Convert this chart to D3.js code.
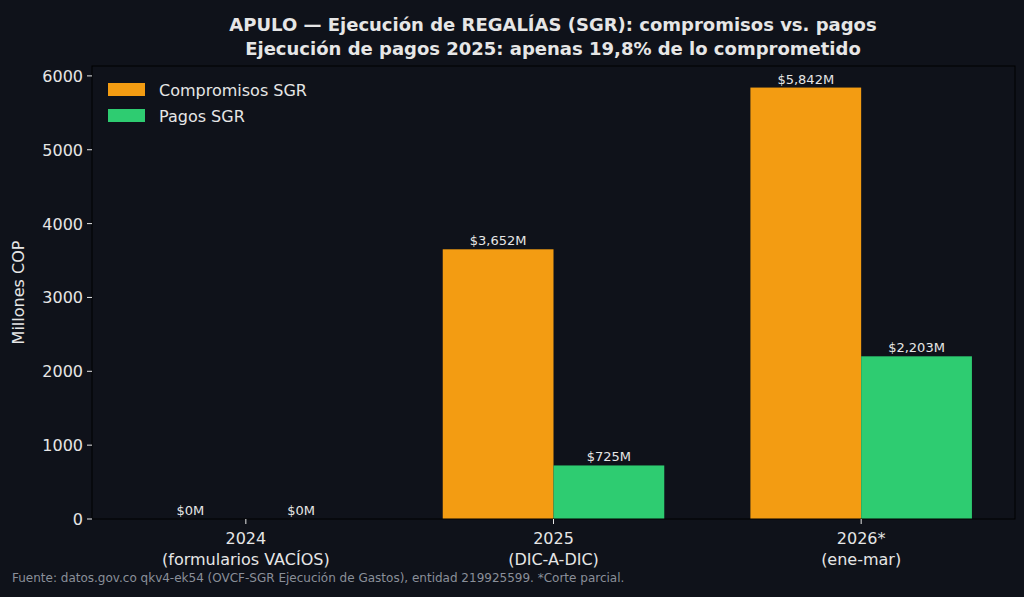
<!DOCTYPE html><html><head><meta charset="utf-8">
<script src="https://cdn.jsdelivr.net/npm/d3@7"></script>
<style>body{margin:0;background:#0f121a}</style></head><body>
<svg id="c" width="1024" height="597"></svg>
<script>
const categories=["2024\n(formularios VACÍOS)","2025\n(DIC-A-DIC)","2026*\n(ene-mar)"];
const compromisos=[0,3652,5842];
const pagos=[0,725,2203];
const yTicks=[0,1000,2000,3000,4000,5000,6000];
const svg=d3.select("#c");
const W=1024,H=597,L=92,R=1015,T=66,B=519;
svg.append("rect").attr("width",W).attr("height",H).attr("fill","#0f121a");
const x=d3.scaleLinear().domain([-0.5,2.5]).range([L,R]);
const y=d3.scaleLinear().domain([0,6134]).range([B,T]);
const bw=0.36,font="DejaVu Sans",fg="#e6e6e6";
const g=svg.append("g");
const fmt=v=>"$"+d3.format(",")(v)+"M";
[[compromisos,-1,"#f39c12"],[pagos,0,"#2ecc71"]].forEach(([vals,off,col])=>{
 vals.forEach((v,i)=>{
  const x0=x(i+off*bw),x1=x(i+(off+1)*bw);
  g.append("rect").attr("x",x0).attr("y",y(v)).attr("width",x1-x0).attr("height",B-y(v)).attr("fill",col);
  g.append("text").attr("x",(x0+x1)/2).attr("y",y(v)-4).attr("text-anchor","middle").attr("fill",fg).attr("font-family",font).attr("font-size",13).text(fmt(v));
 });
});
svg.append("rect").attr("x",L).attr("y",T).attr("width",R-L).attr("height",B-T).attr("fill","none").attr("stroke","#000").attr("stroke-width",1);
yTicks.forEach(t=>{
 svg.append("line").attr("x1",L-5).attr("x2",L).attr("y1",y(t)).attr("y2",y(t)).attr("stroke",fg);
 svg.append("text").attr("x",L-9).attr("y",y(t)+6).attr("text-anchor","end").attr("fill",fg).attr("font-family",font).attr("font-size",16).text(t);
});
categories.forEach((c,i)=>{
 svg.append("line").attr("x1",x(i)).attr("x2",x(i)).attr("y1",B).attr("y2",B+5).attr("stroke",fg);
 c.split("\n").forEach((s,j)=>svg.append("text").attr("x",x(i)).attr("y",B+25+j*21).attr("text-anchor","middle").attr("fill",fg).attr("font-family",font).attr("font-size",16).text(s));
});
svg.append("text").attr("transform",`translate(24,${(T+B)/2}) rotate(-90)`).attr("text-anchor","middle").attr("fill",fg).attr("font-family",font).attr("font-size",16).text("Millones COP");
svg.append("text").attr("x",553).attr("y",31).attr("text-anchor","middle").attr("fill",fg).attr("font-family",font).attr("font-size",18).attr("font-weight","bold").text("APULO — Ejecución de REGALÍAS (SGR): compromisos vs. pagos");
svg.append("text").attr("x",553).attr("y",55).attr("text-anchor","middle").attr("fill",fg).attr("font-family",font).attr("font-size",18).attr("font-weight","bold").text("Ejecución de pagos 2025: apenas 19,8% de lo comprometido");
[["Compromisos SGR","#f39c12"],["Pagos SGR","#2ecc71"]].forEach(([t,c],i)=>{
 svg.append("rect").attr("x",108).attr("y",83+i*26).attr("width",37).attr("height",13).attr("fill",c);
 svg.append("text").attr("x",159).attr("y",96+i*26).attr("fill",fg).attr("font-family",font).attr("font-size",16).text(t);
});
svg.append("text").attr("x",12).attr("y",582).attr("fill","#8a8f99").attr("font-family",font).attr("font-size",12).text("Fuente: datos.gov.co qkv4-ek54 (OVCF-SGR Ejecución de Gastos), entidad 219925599. *Corte parcial.");
</script></body></html>
